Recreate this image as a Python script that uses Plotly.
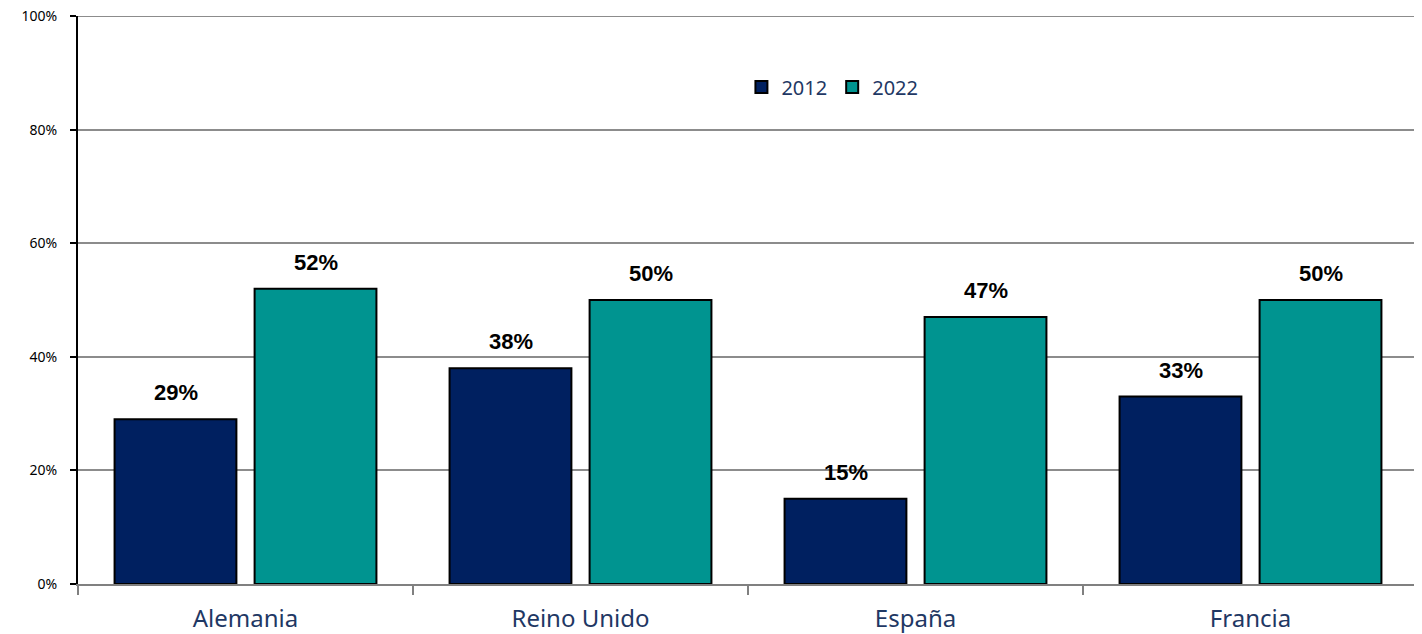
import plotly.graph_objects as go

categories = ["Alemania", "Reino Unido", "España", "Francia"]
series_names = ["2012", "2022"]
values_2012 = [29, 38, 15, 33]
values_2022 = [52, 50, 47, 50]
y_tick_vals = [0, 20, 40, 60, 80, 100]
y_tick_text = ["0%", "20%", "40%", "60%", "80%", "100%"]

colors = ["#002060", "#009490"]
series_values = [values_2012, values_2022]

fig = go.Figure()
for name, vals, col in zip(series_names, series_values, colors):
    fig.add_trace(go.Bar(
        x=categories, y=vals, name=name,
        marker=dict(color=col, line=dict(color="black", width=2)),
    ))

# data labels above each bar (group offset in pixels)
offsets = [-70, 70]
for vals, dx in zip(series_values, offsets):
    for c, v in zip(categories, vals):
        fig.add_annotation(
            x=c, y=v, text=f"{v}%", showarrow=False,
            xanchor="center", yanchor="bottom", xshift=dx, yshift=12,
            font=dict(family="Liberation Sans, Arial", size=22, color="black", weight="bold"),
        )

fig.update_layout(
    width=1422, height=634,
    margin=dict(l=70, r=12, t=8, b=58),
    paper_bgcolor="white", plot_bgcolor="white",
    barmode="group", bargap=0.164, bargroupgap=0.13,
    showlegend=True,
    legend=dict(orientation="h", x=0.563, y=0.875, xanchor="center", yanchor="middle",
                font=dict(family="Noto Sans", size=20, color="#1F3864"),
                bgcolor="rgba(0,0,0,0)"),
)
fig.update_xaxes(
    showline=True, linecolor="#808080", linewidth=2,
    ticks="outside", tickson="boundaries", ticklen=9, tickcolor="#808080", tickwidth=2,
    tickfont=dict(family="Noto Sans", size=24, color="#1F3864"),
    ticklabelstandoff=12, automargin=False,
    showgrid=False,
)
fig.update_yaxes(
    range=[0, 100], tickvals=y_tick_vals, ticktext=y_tick_text,
    showline=True, linecolor="black", linewidth=2,
    ticks="outside", ticklen=6, tickcolor="black", tickwidth=2,
    tickfont=dict(family="Noto Sans", size=14, color="black"),
    ticklabelstandoff=10, ticklabeloverflow="allow", automargin=False,
    showgrid=True, gridcolor="#8c8c8c", gridwidth=2,
    zeroline=False,
)
# top gridline at the 100% level (plotly omits grid lines on the plot edge)
fig.add_hline(y=y_tick_vals[-1], line=dict(color="#8c8c8c", width=2), layer="below")
fig.write_html("out.html")
